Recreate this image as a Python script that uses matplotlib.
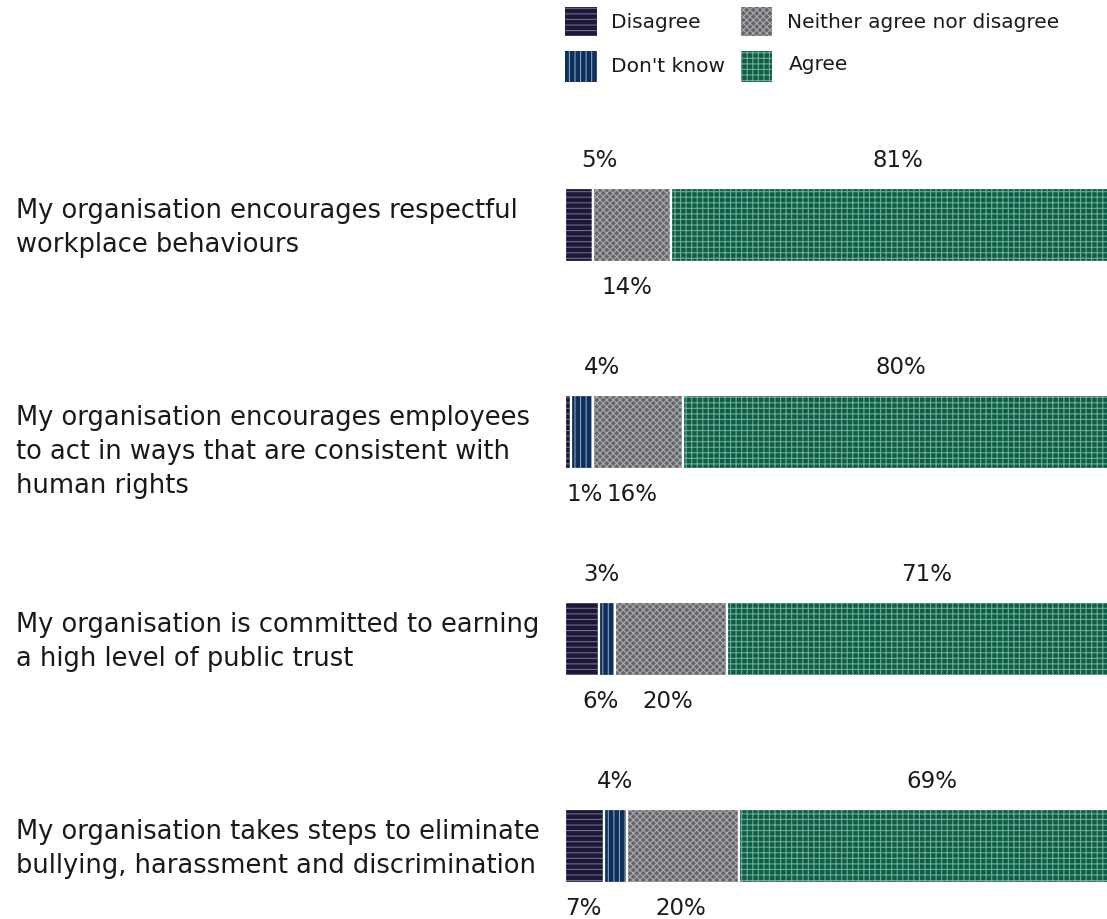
import matplotlib
matplotlib.use("Agg")
import matplotlib.pyplot as plt
from matplotlib import transforms
from matplotlib.patches import Rectangle

# Survey statements and response shares (%)
questions = [
    "My organisation encourages respectful\nworkplace behaviours",
    "My organisation encourages employees\nto act in ways that are consistent with\nhuman rights",
    "My organisation is committed to earning\na high level of public trust",
    "My organisation takes steps to eliminate\nbullying, harassment and discrimination",
]
responses = ["Disagree", "Don't know", "Neither agree nor disagree", "Agree"]
disagree = [5, 1, 6, 7]
dont_know = [0, 4, 3, 4]
neither = [14, 16, 20, 20]
agree = [81, 80, 71, 69]

series = [disagree, dont_know, neither, agree]

# Fill colour, hatch pattern and hatch colour for each response
styles = [
    dict(face="#1b1838", hatch="---", hc="#6e6c89"),
    dict(face="#0d2f5c", hatch="|||", hc="#8aa0bb"),
    dict(face="#65666c", hatch="xxxxx", hc="#a9a9ae"),
    dict(face="#0b5f46", hatch="+++", hc="#74a896"),
]

# Horizontal nudges (in % units) for value labels that sit beside narrow segments
nudge = {
    (0, 0): 3.7, (0, 2): -1.0,
    (1, 0): 3.0, (1, 1): 3.6, (1, 2): -1.0, (1, 3): -1.0,
    (2, 0): 3.4, (2, 1): -1.0, (2, 2): -0.7,
    (3, 0): -0.3, (3, 2): -0.3,
}

plt.rcParams["hatch.linewidth"] = 0.8
plt.rcParams["font.family"] = ["DejaVu Sans"]
TEXT = "#1a1a1a"

W, H = 1107, 920
fig = plt.figure(figsize=(W / 100, H / 100), dpi=100)
fig.patch.set_facecolor("white")

ax = fig.add_axes([565 / W, -0.0332, 560 / W, 0.9])
ax.set_xlim(0, 100)
ax.set_ylim(3.5, -0.5)
ax.axis("off")

bar_h = 0.357
rows = range(len(questions))
left = [0.0] * len(questions)

for s, (vals, st) in enumerate(zip(series, styles)):
    ax.barh(list(rows), vals, left=left, height=bar_h, color=st["face"],
            hatch=st["hatch"], edgecolor=st["hc"], linewidth=0)
    ax.barh(list(rows), vals, left=left, height=bar_h, fill=False,
            edgecolor="white", linewidth=1.6)
    left = [l + v for l, v in zip(left, vals)]

# Value labels alternate above/below, counting back from the Agree segment
above_off = bar_h / 2 + 29 / 207
below_off = bar_h / 2 + 25 / 207
for i in rows:
    starts = []
    acc = 0.0
    for vals in series:
        starts.append(acc)
        acc += vals[i]
    present = [s for s in range(len(series)) if series[s][i] > 0]
    for k, s in enumerate(reversed(present)):
        v = series[s][i]
        x = starts[s] + v / 2 + nudge.get((i, s), 0.0)
        y = i - above_off if k % 2 == 0 else i + below_off
        ax.text(x, y, f"{v}%", ha="center", va="center", fontsize=16.5, color=TEXT)

# Statement labels on the left
trans = transforms.blended_transform_factory(fig.transFigure, ax.transData)
for i, q in enumerate(questions):
    ax.text(16 / W, i - 0.136, q, transform=trans, ha="left", va="top",
            fontsize=18.5, color=TEXT, linespacing=1.4)

# Legend swatches and labels
def fig_rect(x, y, w, h):
    return (x / W, 1 - (y + h) / H), w / W, h / H

legend_items = [
    (0, 565, 8, 32, 29, 611, 23),
    (1, 565, 52, 32, 31, 611, 66),
    (2, 741, 8, 31, 29, 787, 23),
    (3, 741, 52, 31, 31, 789, 64),
]
for s, x, y, w, h, tx, ty in legend_items:
    st = styles[s]
    xy, ww, hh = fig_rect(x, y, w, h)
    fig.add_artist(Rectangle(xy, ww, hh, transform=fig.transFigure,
                             facecolor=st["face"], hatch=st["hatch"],
                             edgecolor=st["hc"], linewidth=0))
    fig.text(tx / W, 1 - ty / H, responses[s], ha="left", va="center",
             fontsize=14.5, color=TEXT)

fig.savefig("out.png", dpi=100)
